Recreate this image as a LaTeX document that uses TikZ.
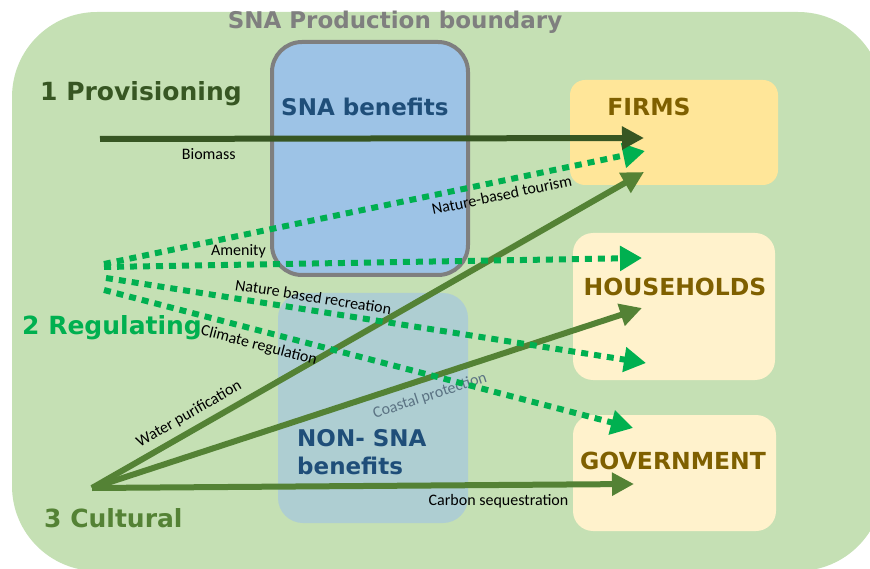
\documentclass[tikz,border=0pt]{standalone}
\usepackage{fontspec}
\setmainfont{Carlito}
\newfontfamily\headfont{DejaVu Sans}
\usepackage{tikz}
\usetikzlibrary{arrows.meta, calc}

\definecolor{bggreen}{HTML}{C5E0B4}
\definecolor{snablue}{HTML}{9DC3E6}
\definecolor{nonsna}{HTML}{AECED2}
\definecolor{bordergray}{HTML}{7F7F7F}
\definecolor{darkblue}{HTML}{1F4E79}
\definecolor{firmfill}{HTML}{FFE699}
\definecolor{hhfill}{HTML}{FFF2CC}
\definecolor{boxtext}{HTML}{7F6000}
\definecolor{provgreen}{HTML}{375623}
\definecolor{reggreen}{HTML}{00B050}
\definecolor{cultgreen}{HTML}{548235}
\definecolor{coastgray}{HTML}{5B7383}

\tikzset{
  head/.style={font=\headfont\bfseries\fontsize{25}{28}\selectfont, inner sep=0pt},
  boxtitle/.style={font=\headfont\bfseries\fontsize{23.5}{27}\selectfont, text=boxtext, inner sep=0pt},
  flowlbl/.style={font=\fontsize{16}{18}\selectfont, text=black, inner sep=2pt},
  provflow/.style={line width=6pt, provgreen, -{Triangle[length=22pt,width=22pt]}},
  regflow/.style={line width=6pt, reggreen, dash pattern=on 7pt off 6pt, -{Triangle[length=22pt,width=24pt]}},
  cultflow/.style={line width=6pt, cultgreen, -{Triangle[length=22pt,width=22pt]}}
}

\begin{document}
\begin{tikzpicture}[x=1pt, y=-1pt]
        \useasboundingbox (0,0) rectangle (870,569);
        % Production boundary area
        \fill[bggreen, rounded corners=85pt] (12,12) rectangle (883,571);
        \node[font=\headfont\bfseries\fontsize{23}{26}\selectfont, text=bordergray, inner sep=0pt] (boundary) at (395,22) {SNA Production boundary};

        % SNA and non-SNA benefit boxes
        \draw[fill=snablue, draw=bordergray, line width=4pt, rounded corners=30pt] (272,42) rectangle (468,275);
        \node[font=\headfont\bfseries\fontsize{23}{26}\selectfont, text=darkblue, inner sep=0pt, anchor=west] (sna) at (281,107) {SNA benefits};
        \fill[nonsna, rounded corners=25pt] (278,293) rectangle (468,523);
        \node[font=\headfont\bfseries\fontsize{23}{28}\selectfont, text=darkblue, inner sep=0pt, anchor=north west, align=left] (nonsna) at (297,429) {NON- SNA\\benefits};
        \node[flowlbl, text=coastgray, rotate=18] (coast) at (430,396) {Coastal protection};

        % Sector boxes
        \fill[firmfill, rounded corners=15pt] (570,80) rectangle (778,185);
        \fill[hhfill, rounded corners=20pt] (573,233) rectangle (775,380);
        \fill[hhfill, rounded corners=20pt] (573,415) rectangle (776,531);
        \node[boxtitle] (firms) at (649,107) {FIRMS};
        \node[boxtitle] (house) at (675,287) {HOUSEHOLDS};
        \node[boxtitle] (gov) at (673,461) {GOVERNMENT};

        % Service types
        \node[head, text=provgreen, anchor=west] (prov) at (40,94) {1 Provisioning};
        \node[head, text=reggreen, anchor=west] (reg) at (22,328) {2 Regulating};
        \node[head, text=cultgreen, anchor=west] (cult) at (44,518) {3 Cultural};

        % Start and end points of the flows
        \coordinate (provstart) at (100,139);
        \coordinate (regstart) at (104,264);
        \coordinate (regstart2) at (104,267);
        \coordinate (regstart3) at (106,278);
        \coordinate (regstart4) at (104,290);
        \coordinate (cultstart) at (92,488);
        \coordinate (firmsa) at (644,138);
        \coordinate (firmsb) at (645,151);
        \coordinate (firmsc) at (644,172);
        \coordinate (housea) at (642,258);
        \coordinate (houseb) at (642,308);
        \coordinate (housec) at (646,363);
        \coordinate (gova) at (633,428);
        \coordinate (govb) at (634,484);

        % Cultural flows
        \draw[cultflow] (cultstart) -- (firmsc) node[flowlbl, pos=0.19, sloped, above=4pt] {Water purification};
        \draw[cultflow] (cultstart) -- (houseb);
        \draw[cultflow] (cultstart) -- (govb) node[flowlbl, pos=0.75, below=4pt] {Carbon sequestration};

        % Regulating flows
        \draw[regflow] (regstart) -- (firmsb) node[flowlbl, pos=0.73, sloped, below=3pt] {Nature-based tourism};
        \draw[regflow] (regstart2) -- (housea) node[flowlbl, pos=0.25, above=2pt] {Amenity};
        \draw[regflow] (regstart3) -- (housec) node[flowlbl, pos=0.38, sloped, above=3pt] {Nature based recreation};
        \draw[regflow] (regstart4) -- (gova) node[flowlbl, pos=0.3, sloped, below=3pt] {Climate regulation};

        % Provisioning flow
        \draw[provflow] (provstart) -- (firmsa) node[flowlbl, pos=0.2, below=5pt] {Biomass};
    \end{tikzpicture}
\end{document}
